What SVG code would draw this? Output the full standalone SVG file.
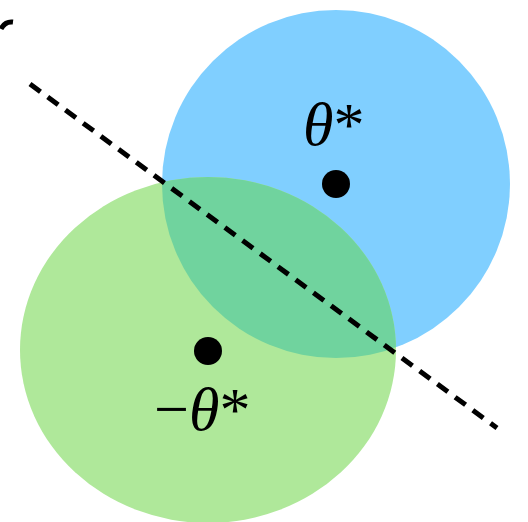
<svg xmlns="http://www.w3.org/2000/svg" width="528" height="522" viewBox="0 0 528 522">
<defs>
<style>
.lbl{font-family:"Liberation Serif","Times New Roman",serif;fill:#000}
.it{font-style:italic}
.dot{fill:#000}
</style>
<clipPath id="blueClip"><circle cx="336" cy="184" r="174"/></clipPath>
</defs>
<rect width="528" height="522" fill="#fff"/>
<g id="mark">
<path d="M1,29 Q5,21 13,22" fill="none" stroke="#000" stroke-width="5"/>
</g>
<g id="theta-star">
<circle cx="336" cy="184" r="174" fill="#80CFFF"/>
</g>
<g id="neg-theta-star">
<ellipse cx="208" cy="350" rx="188" ry="173" fill="#AFE89A"/>
</g>
<g id="overlap">
<ellipse cx="208" cy="350" rx="188" ry="173" fill="#70D39E" clip-path="url(#blueClip)"/>
</g>
<g id="connectors">
<line x1="30" y1="84" x2="497" y2="428" stroke="#000" stroke-width="5" stroke-dasharray="13 9"/>
</g>
<g id="labels">
<circle class="dot" cx="336" cy="184" r="14"/>
<text class="lbl" x="303" y="145" font-size="62"><tspan class="it">θ</tspan>*</text>
<circle class="dot" cx="208" cy="351" r="14"/>
<text class="lbl" x="154" y="430" font-size="62">−<tspan class="it">θ</tspan>*</text>
</g>
</svg>
